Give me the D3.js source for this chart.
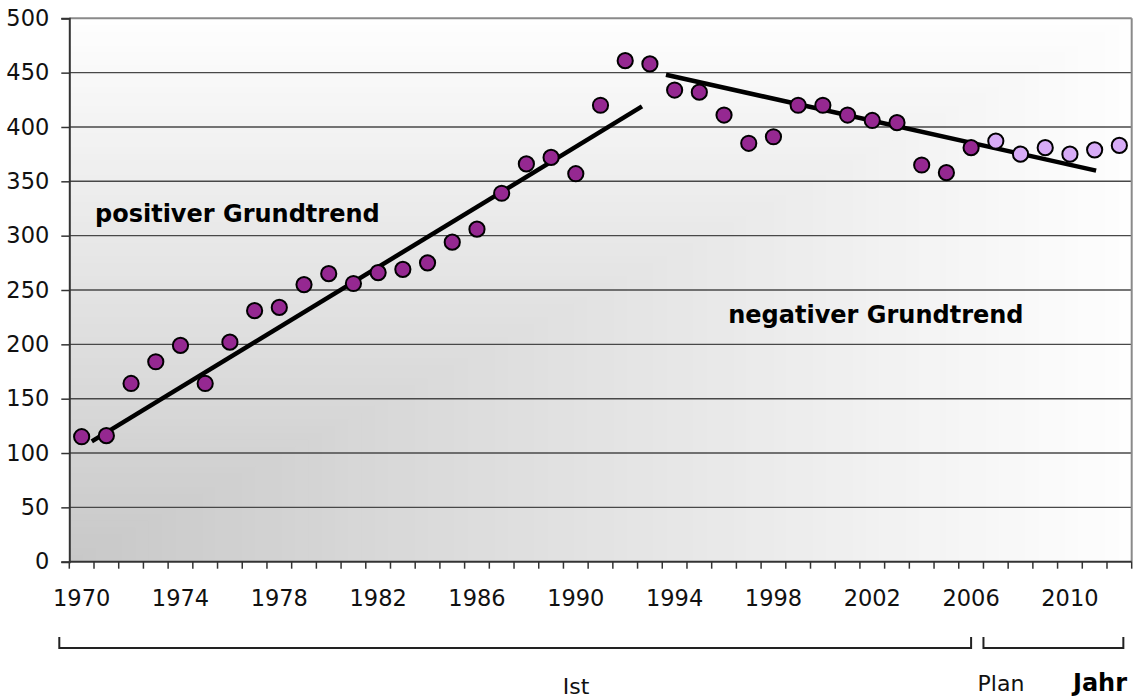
<!DOCTYPE html>
<html><head><meta charset="utf-8">
<script src="https://cdn.jsdelivr.net/npm/d3@7"></script>
<style>body{margin:0;background:#fff}svg{display:block}text{font-family:"DejaVu Sans",Verdana,sans-serif}</style>
</head><body><svg id="c" width="1133" height="699"></svg>
<script>
const years = d3.range(1970, 2013).map(String);
const istYears = years.slice(0, 37);   // 1970–2006
const planYears = years.slice(37);     // 2007–2012
const istValues = [115,116,164,184,199,164,202,231,234,255,265,256,266,269,275,294,306,339,366,372,357,420,461,458,434,432,411,385,391,420,420,411,406,404,365,358,381];
const planValues = [387,375,381,375,379,383];
const yTicks = [0,50,100,150,200,250,300,350,400,450,500];
const xTickLabels = ["1970","1974","1978","1982","1986","1990","1994","1998","2002","2006","2010"];
const trendUp = [{year:1970.41, value:110.7},{year:1992.68, value:418.9}];
const trendDown = [{year:1993.65, value:448.1},{year:2011.06, value:359.8}];
const annotations = [{text:"positiver Grundtrend", year:1970.54, value:312.6}, {text:"negativer Grundtrend", year:1996.17, value:220}];

const svg = d3.select("#c");
const L = 69.3, R = 1131.7, T = 18.3, B = 561.7;
const x = d3.scaleBand().domain(years).range([L, R]).padding(0);
const y = d3.scaleLinear().domain([0, 500]).range([B, T]);
const xc = d3.scaleLinear().domain([1970, 2012]).range([x("1970") + x.bandwidth()/2, x("2012") + x.bandwidth()/2]);

// corner gradient background
const W = R - L, H = B - T, N = 80;
const col = d3.interpolateRgb("#c8c8c8", "#fefefe");
for (let i = N; i >= 1; i--) {
  const s = i / N;
  svg.append("rect").attr("x", L).attr("y", B - H*s).attr("width", W*s).attr("height", H*s)
    .attr("fill", col(s - 0.5/N));
}

// gridlines
svg.append("g").selectAll("line").data(yTicks.filter(v => v > 0 && v < 500)).join("line")
  .attr("x1", L).attr("x2", R).attr("y1", d => y(d)).attr("y2", d => y(d))
  .attr("stroke", "#484848").attr("stroke-width", 1.4);
// top & right border
svg.append("line").attr("x1", L).attr("x2", R).attr("y1", y(500)).attr("y2", y(500)).attr("stroke", "#8a8a8a").attr("stroke-width", 2);
svg.append("line").attr("x1", R).attr("x2", R).attr("y1", T).attr("y2", B).attr("stroke", "#8a8a8a").attr("stroke-width", 2);

// y axis
const yAxis = d3.axisLeft(y).tickValues(yTicks).tickSize(8).tickPadding(12);
const gy = svg.append("g").attr("transform", `translate(${L},0)`).call(yAxis);
gy.select(".domain").attr("stroke", "#333").attr("stroke-width", 2);
gy.selectAll(".tick line").attr("stroke", "#333").attr("stroke-width", 1.5);
gy.selectAll("text").attr("font-size", 22.5).attr("fill", "#111").attr("font-family", "DejaVu Sans");

// x axis
const gx = svg.append("g").attr("transform", `translate(0,${B})`);
gx.append("line").attr("x1", L).attr("x2", R).attr("stroke", "#333").attr("stroke-width", 2);
const bounds = years.map(d => x(d)).concat([R]);
gx.selectAll("line.tk").data(bounds).join("line").attr("class", "tk")
  .attr("x1", d => d).attr("x2", d => d).attr("y1", 0).attr("y2", 7).attr("stroke", "#333").attr("stroke-width", 1.5);
gx.selectAll("text").data(xTickLabels).join("text")
  .attr("x", d => x(d) + x.bandwidth()/2).attr("y", 44).attr("text-anchor", "middle")
  .attr("font-size", 22.5).attr("fill", "#111").text(d => d);

// trend lines
const line = d3.line().x(d => xc(d.year)).y(d => y(d.value));
[trendUp, trendDown].forEach(t => svg.append("path").attr("d", line(t)).attr("fill", "none").attr("stroke", "#000").attr("stroke-width", 4.5));

// points
svg.append("g").selectAll("circle").data(istYears.map((d,i) => ({year:d, v:istValues[i]}))).join("circle")
  .attr("cx", d => x(d.year) + x.bandwidth()/2).attr("cy", d => y(d.v)).attr("r", 7.6)
  .attr("fill", "#952891").attr("stroke", "#000").attr("stroke-width", 2);
svg.append("g").selectAll("circle").data(planYears.map((d,i) => ({year:d, v:planValues[i]}))).join("circle")
  .attr("cx", d => x(d.year) + x.bandwidth()/2).attr("cy", d => y(d.v)).attr("r", 7.6)
  .attr("fill", "#d7abf6").attr("stroke", "#000").attr("stroke-width", 2);

// annotations
svg.selectAll("text.ann").data(annotations).join("text").attr("class", "ann")
  .attr("x", d => xc(d.year)).attr("y", d => y(d.value))
  .attr("font-size", 24).attr("font-weight", "bold").attr("fill", "#000").text(d => d.text);

// brackets
function bracket(x1, x2) {
  svg.append("path").attr("d", `M${x1},637 V648 H${x2} V637`).attr("fill", "none").attr("stroke", "#222").attr("stroke-width", 2);
}
bracket(L - 10, x("2006") + x.bandwidth()/2);
bracket(x("2007"), x("2012") + x.bandwidth()/2 + 4);
svg.append("text").attr("x", 576).attr("y", 694).attr("text-anchor", "middle").attr("font-size", 22).attr("fill", "#111").text("Ist");
svg.append("text").attr("x", 1001).attr("y", 691).attr("text-anchor", "middle").attr("font-size", 22).attr("fill", "#111").text("Plan");
svg.append("text").attr("x", 1100).attr("y", 691).attr("text-anchor", "middle").attr("font-size", 24).attr("font-weight", "bold").attr("fill", "#000").text("Jahr");
</script></body></html>
